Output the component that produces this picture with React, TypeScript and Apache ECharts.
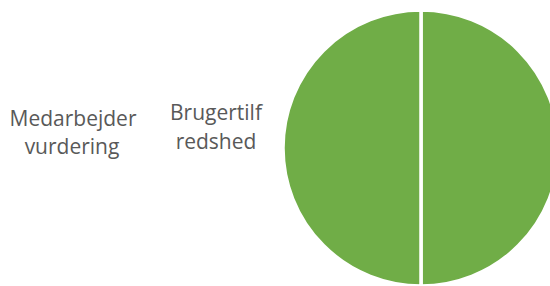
import React, { useEffect, useRef } from "react";
import * as echarts from "echarts";

const sliceNames = ["Brugertilfredshed", "Medarbejder vurdering"];
const sliceValues = [50, 50];
const labelLeft = ["Medarbejder", "vurdering"];
const labelRight = ["Brugertilf", "redshed"];

export default function App() {
  const ref = useRef<HTMLDivElement>(null);
  useEffect(() => {
    document.body.style.margin = "0";
    const chart = echarts.init(ref.current!, undefined, { renderer: "svg" });
    const font = { fontFamily: "Open Sans", fontSize: 21, fill: "#595959" };
    chart.setOption({
      animation: false,
      backgroundColor: "#ffffff",
      series: [
        {
          type: "pie",
          center: [421, 148],
          radius: 138,
          startAngle: 90,
          clockwise: true,
          label: { show: false },
          labelLine: { show: false },
          emphasis: { disabled: true },
          itemStyle: { color: "#70AD47", borderColor: "#ffffff", borderWidth: 3.5 },
          data: sliceNames.map((n, i) => ({ name: n, value: sliceValues[i] })),
        },
      ],
      graphic: [
        { type: "text", x: 73, y: 118, style: { text: labelLeft[0], align: "center", verticalAlign: "middle", ...font } },
        { type: "text", x: 72, y: 146, style: { text: labelLeft[1], align: "center", verticalAlign: "middle", ...font } },
        { type: "text", x: 216, y: 112, style: { text: labelRight[0], align: "center", verticalAlign: "middle", ...font } },
        { type: "text", x: 216, y: 141, style: { text: labelRight[1], align: "center", verticalAlign: "middle", ...font } },
      ],
    });
    return () => chart.dispose();
  }, []);
  return <div ref={ref} style={{ width: 550, height: 286, position: "absolute", left: 0, top: 0 }} />;
}
